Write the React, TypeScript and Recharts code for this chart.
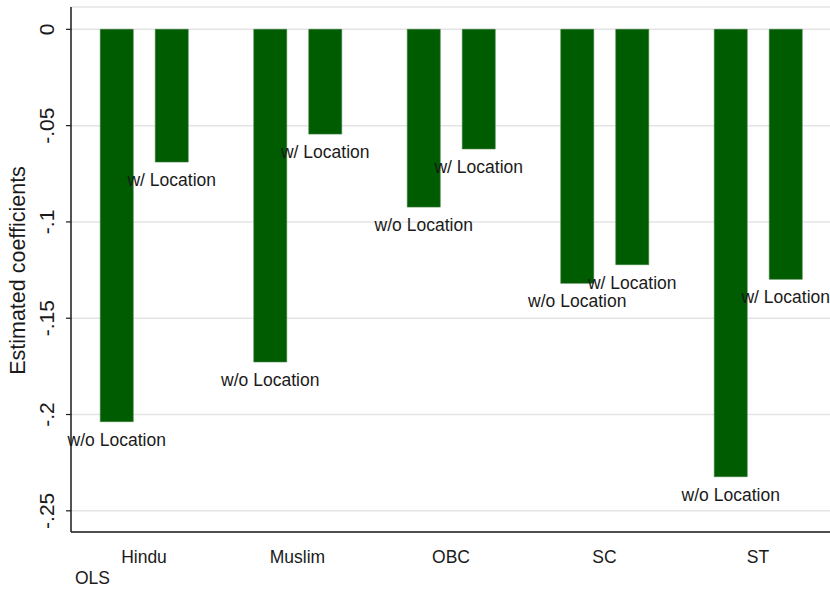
import { BarChart, Bar, XAxis, YAxis, CartesianGrid, LabelList } from 'recharts'

const categories = ['Hindu', 'Muslim', 'OBC', 'SC', 'ST']
const withoutLocation = [-0.2037, -0.1727, -0.0923, -0.1319, -0.2323]
const withLocation = [-0.0689, -0.0544, -0.0621, -0.1222, -0.1298]
const yTicks = [0, -0.05, -0.1, -0.15, -0.2, -0.25]
const yTickLabels = ['0', '-.05', '-.1', '-.15', '-.2', '-.25']

const data = categories.map((name, i) => ({
  name,
  woLoc: withoutLocation[i],
  wLoc: withLocation[i],
}))

const FONT = '"Liberation Sans", Arial, Helvetica, sans-serif'
const BAR = '#005c00'
const INK = '#1a1a1a'

function YTick({ x, y, payload }: any) {
  const idx = yTicks.indexOf(payload.value)
  return (
    <text
      x={x + 1}
      y={y}
      transform={`rotate(-90 ${x + 1} ${y})`}
      textAnchor="middle"
      fontSize={21}
      fontFamily={FONT}
      fill={INK}
    >
      {idx >= 0 ? yTickLabels[idx] : payload.value}
    </text>
  )
}

function XTick({ x, y, payload }: any) {
  return (
    <text x={x} y={y + 23} textAnchor="middle" fontSize={17.5} fontFamily={FONT} fill={INK}>
      {payload.value}
    </text>
  )
}

function barLabel(text: string) {
  return ({ x, y, width, height }: any) => {
    const bottom = Math.max(y, y + height)
    return (
      <text
        x={x + width / 2}
        y={bottom + 24}
        textAnchor="middle"
        fontSize={17.5}
        fontFamily={FONT}
        fill={INK}
      >
        {text}
      </text>
    )
  }
}

export default function App() {
  return (
    <div
      style={{
        position: 'absolute',
        left: 0,
        top: 0,
        width: 830,
        height: 590,
        overflow: 'hidden',
        background: '#fff',
      }}
    >
      <BarChart
        width={840}
        height={590}
        data={data}
        margin={{ top: 7, right: 5.25, bottom: 0, left: 0 }}
        barSize={33}
        barGap={22}
      >
        <CartesianGrid vertical={false} stroke="#e4e4e4" strokeWidth={1.5} />
        <XAxis
          dataKey="name"
          xAxisId="main"
          height={58}
          padding={{ left: -3.75, right: 0 }}
          tickLine={false}
          axisLine={{ stroke: INK, strokeWidth: 1.5 }}
          tick={<XTick />}
        />
        <XAxis
          dataKey="name"
          xAxisId="frame"
          orientation="top"
          height={0}
          tick={false}
          tickLine={false}
          axisLine={{ stroke: INK, strokeWidth: 1.5 }}
        />
        <YAxis
          width={71}
          domain={[-0.261, 0.0116]}
          ticks={yTicks}
          allowDataOverflow
          tickSize={5}
          tickMargin={13}
          tickLine={{ stroke: INK, strokeWidth: 1.2 }}
          axisLine={{ stroke: INK, strokeWidth: 1.5 }}
          tick={<YTick />}
          label={{
            value: 'Estimated coefficients',
            angle: -90,
            position: 'insideLeft',
            dx: 12,
            dy: 1,
            style: { fontSize: 21.5, fontFamily: FONT, fill: INK, textAnchor: 'middle' },
          }}
        />
        <Bar dataKey="woLoc" xAxisId="main" fill={BAR} stroke="#3d7d3d" strokeWidth={0.6} isAnimationActive={false}>
          <LabelList dataKey="woLoc" content={barLabel('w/o Location')} />
        </Bar>
        <Bar dataKey="wLoc" xAxisId="main" fill={BAR} stroke="#3d7d3d" strokeWidth={0.6} isAnimationActive={false}>
          <LabelList dataKey="wLoc" content={barLabel('w/ Location')} />
        </Bar>
      </BarChart>
      <div
        style={{
          position: 'absolute',
          left: 75,
          top: 568,
          fontSize: 17.5,
          fontFamily: FONT,
          color: INK,
          lineHeight: '20px',
        }}
      >
        OLS
      </div>
    </div>
  )
}
